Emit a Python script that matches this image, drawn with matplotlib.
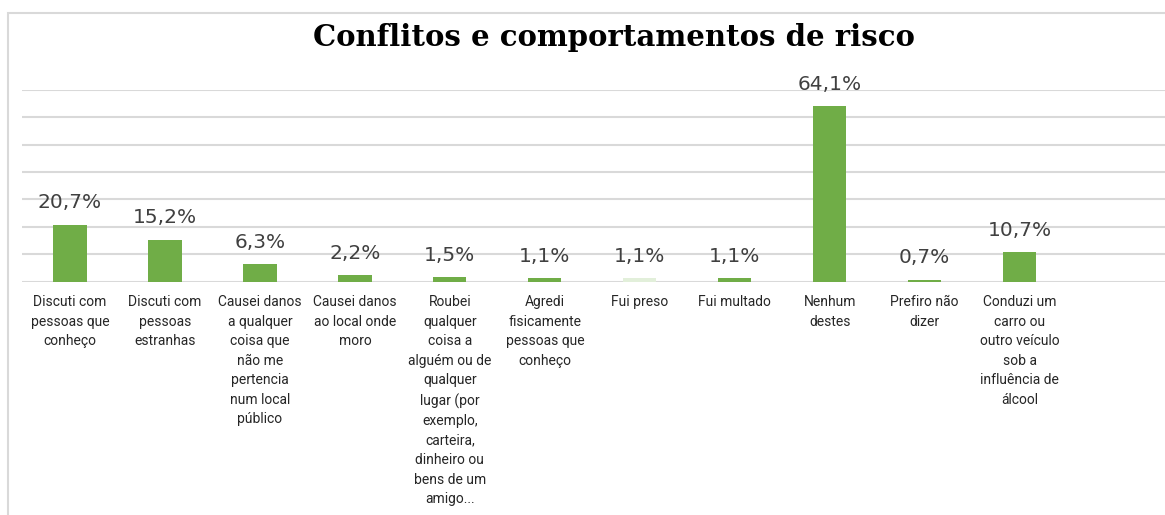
import matplotlib.pyplot as plt
from matplotlib.patches import Rectangle

categorias = [
    "Discuti com\npessoas que\nconheço",
    "Discuti com\npessoas\nestranhas",
    "Causei danos\na qualquer\ncoisa que\nnão me\npertencia\nnum local\npúblico",
    "Causei danos\nao local onde\nmoro",
    "Roubei\nqualquer\ncoisa a\nalguém ou de\nqualquer\nlugar (por\nexemplo,\ncarteira,\ndinheiro ou\nbens de um\namigo...",
    "Agredi\nfisicamente\npessoas que\nconheço",
    "Fui preso",
    "Fui multado",
    "Nenhum\ndestes",
    "Prefiro não\ndizer",
    "Conduzi um\ncarro ou\noutro veículo\nsob a\ninfluência de\nálcool",
]
percentagens = [20.7, 15.2, 6.3, 2.2, 1.5, 1.1, 1.1, 1.1, 64.1, 0.7, 10.7]
grelha = [0, 10, 20, 30, 40, 50, 60, 70]

VERDE = "#70AD47"
CINZA_TEXTO = "#404040"
CINZA_GRELHA = "#D9D9D9"

W, H = 1165, 515
fig = plt.figure(figsize=(W / 100, H / 100), dpi=100)

# moldura do gráfico (cortada à direita e em baixo)
fig.patches.append(Rectangle((8 / W, -0.1), 1.2, 1.1 - 13 / H, transform=fig.transFigure,
                             fill=False, edgecolor=CINZA_GRELHA, linewidth=1.5))

ax = fig.add_axes([22 / W, 1 - 281.5 / H, (W - 22) / W, 191.5 / H])

cores = [VERDE] * len(percentagens)
cores[6] = "#E2EFDA"
x = range(len(percentagens))
barras = ax.bar(x, percentagens, width=0.35, color=cores, zorder=3)

for xi, v in zip(x, percentagens):
    ax.annotate(f"{v:.1f}%".replace(".", ","), (xi, v), xytext=(0, 9),
                textcoords="offset points", ha="center", va="bottom",
                fontsize=14.5, color=CINZA_TEXTO, family="DejaVu Sans")

ax.set_xlim(-0.505, 11.53)
ax.set_ylim(0, 70)
ax.set_yticks(grelha)
ax.yaxis.grid(True, color=CINZA_GRELHA, linewidth=1.5, zorder=0)
ax.tick_params(axis="y", left=False, labelleft=False)
ax.tick_params(axis="x", length=0, pad=10)
ax.set_xticks(list(x))
ax.set_xticklabels(categorias, fontsize=10, color="#262626", family="Roboto")
for lbl in ax.get_xticklabels():
    lbl.set_linespacing(1.5)
    lbl.set_multialignment("center")
for s in ax.spines.values():
    s.set_visible(False)

fig.text(614 / W, 1 - 38 / H, "Conflitos e comportamentos de risco", ha="center", va="center",
         fontsize=21, fontweight="bold", family="DejaVu Serif", color="black")

fig.savefig("out.png", dpi=100)
